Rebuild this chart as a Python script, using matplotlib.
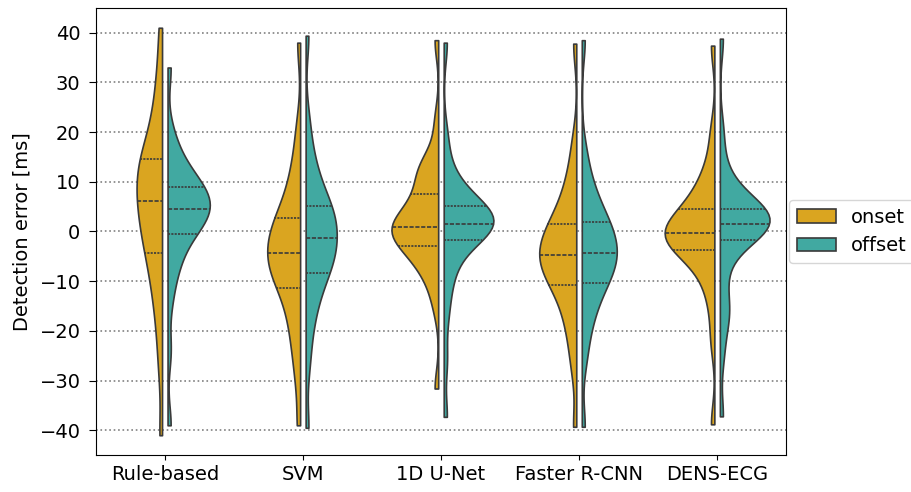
import pandas as pd
import matplotlib
matplotlib.use('Agg')
from matplotlib import pyplot as plt
import seaborn as sns

models = ['Rule-based', 'SVM', '1D U-Net', 'Faster R-CNN', 'DENS-ECG']
kinds = ['onset', 'offset']
colors = ['#DAA520', '#41A9A1']

# detection errors [ms]
rule_onset = [-41, -28, -21, -16, -12.5, -9.5, -7, -4.8, -3.0, -1.5, 0, 1.5, 3, 4.3, 5.5,
              6.6, 8, 9.3, 10.6, 11.8, 13, 13.8, 14.8, 16.5, 18.5, 21, 24, 28, 33, 41]
rule_offset = [-39, -24, -14, -9, -6.5, -4.5, -2.6, -0.8, 0.4, 1.1, 1.8, 2.5, 3.1, 3.7, 4.3,
               4.9, 5.5, 6.1, 6.8, 7.5, 8.2, 8.6, 9.2, 10.2, 11.3, 12.6, 14.2, 16.3, 20, 33]
svm_onset = [-39, -30, -25, -21.5, -18.5, -16, -13.8, -11.8, -10.2, -9.2, -8.2, -7.3, -6.5, -5.7, -4.9,
             -3.9, -2.9, -1.9, -0.9, 0.1, 1.1, 2.1, 2.8, 4.5, 6.5, 8.8, 11.5, 15, 21, 38]
svm_offset = [-39.5, -27, -21, -17, -14.3, -12.2, -10.3, -8.6, -7.4, -6.5, -5.6, -4.7, -3.8, -2.9, -2.0,
              -0.8, 0.2, 1.1, 2.0, 2.9, 3.8, 4.6, 5.3, 6.8, 8.5, 10.5, 13, 16, 22, 39.4]
unet_onset = [-31.6, -15, -10.5, -8.2, -6.6, -5.3, -4.2, -3.3, -2.1, -1.5, -0.9, -0.4, 0.1, 0.5, 0.8,
              1.2, 1.8, 2.5, 3.3, 4.3, 5.5, 6.8, 7.9, 10.2, 11.6, 12.6, 13.5, 14.5, 22, 38.5]
unet_offset = [-37.3, -26, -17, -12, -8.5, -6.2, -4.3, -2.1, -0.9, -0.4, 0.1, 0.5, 0.9, 1.2, 1.45,
               1.75, 2.1, 2.5, 3.0, 3.5, 4.0, 4.6, 5.3, 6.2, 7.2, 8.4, 10, 13, 19, 38]
frcnn_onset = [-39.3, -28, -23, -19.5, -16.8, -14.6, -12.7, -11.0, -9.8, -8.9, -8.0, -7.2, -6.4, -5.7, -5.0,
               -4.4, -3.5, -2.6, -1.7, -0.8, 0.1, 1.0, 1.8, 3.3, 5, 7, 9.5, 12.5, 18, 37.8]
frcnn_offset = [-39.3, -26, -21, -17.8, -15.5, -13.6, -12.0, -10.7, -9.5, -8.6, -7.7, -6.9, -6.1, -5.3, -4.6,
                -4.0, -3.1, -2.2, -1.3, -0.4, 0.5, 1.3, 2.0, 3.3, 4.8, 6.5, 8.5, 11, 16, 38.5]
dens_onset = [-38.8, -22, -15, -11, -8.3, -6.5, -5.2, -4.1, -3.0, -2.5, -2.0, -1.6, -1.2, -0.9, -0.6,
              -0.2, 0.3, 0.9, 1.6, 2.4, 3.2, 4.0, 4.8, 6, 7.5, 9, 11, 14, 20, 37.4]
dens_offset = [-37.2, -25, -18.5, -16, -14.5, -9, -5.2, -2.2, -0.6, -0.2, 0.2, 0.6, 0.9, 1.2, 1.45,
               1.75, 2.1, 2.5, 2.9, 3.3, 3.8, 4.3, 4.7, 5.5, 6.5, 7.8, 9.5, 13, 20, 38.8]

errors = {
    'Rule-based': (rule_onset, rule_offset),
    'SVM': (svm_onset, svm_offset),
    '1D U-Net': (unet_onset, unet_offset),
    'Faster R-CNN': (frcnn_onset, frcnn_offset),
    'DENS-ECG': (dens_onset, dens_offset),
}

rows = []
for m in models:
    for k, vals in zip(kinds, errors[m]):
        for v in vals:
            rows.append((m, k, v))
df = pd.DataFrame(rows, columns=['model', 'kind', 'error'])

plt.rcParams['font.size'] = 14
fig = plt.figure(figsize=(9.12, 4.92), dpi=100)
ax = fig.add_axes([0.105, 0.075, 0.757, 0.909])

sns.violinplot(data=df, x='model', y='error', hue='kind', order=models, hue_order=kinds,
               palette=colors, saturation=1, split=True, gap=0.1, inner='quart',
               cut=0, bw_adjust=0.6, linewidth=1.2, linecolor='#3a3a3a', ax=ax)

ax.set_ylim(-45, 45)
ax.set_yticks(range(-40, 41, 10))
ax.tick_params(axis='y', pad=6, length=5)
ax.yaxis.grid(True, linestyle=':', color='gray', linewidth=1.2)
ax.set_axisbelow(True)
ax.set_xlabel('')
ax.set_ylabel('Detection error [ms]', labelpad=6)
sns.move_legend(ax, 'center left', bbox_to_anchor=(1, 0.5), title=None,
                fontsize=14, borderaxespad=0.15)

fig.savefig('out.png', dpi=100)
